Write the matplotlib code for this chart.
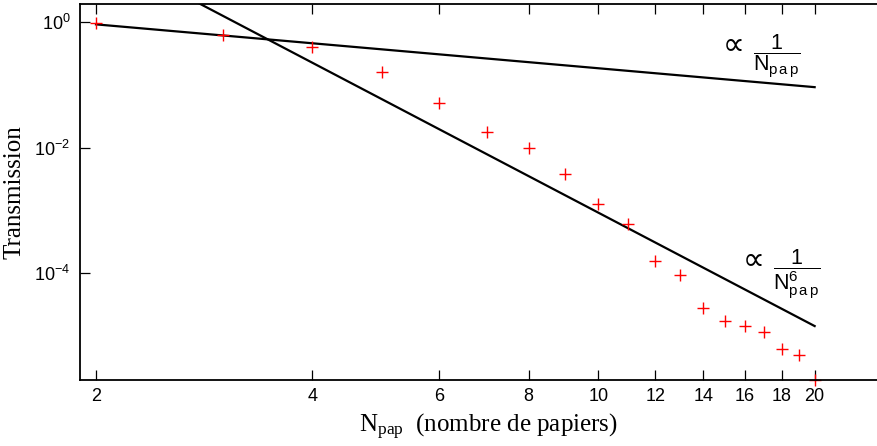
import numpy as np
import matplotlib
matplotlib.use("Agg")
import matplotlib.pyplot as plt
from matplotlib.ticker import FixedLocator, FixedFormatter, LogFormatterSciNotation, NullLocator

plt.rcParams['font.family'] = ['Liberation Sans', 'DejaVu Sans']
plt.rcParams['mathtext.fontset'] = 'custom'
plt.rcParams['mathtext.rm'] = 'Liberation Serif'
plt.rcParams['mathtext.sf'] = 'Liberation Sans'
plt.rcParams['mathtext.it'] = 'Liberation Serif:italic'

# mesures : transmission en fonction du nombre de papiers
n_pap = [2, 3, 4, 5, 6, 7, 8, 9, 10, 11, 12, 13, 14, 15, 16, 17, 18, 19, 20]
transmission = [0.976, 0.628, 0.404, 0.158, 0.0507, 0.0179, 0.0100, 0.00384, 0.00126,
                6.0e-4, 1.56e-4, 9.25e-5, 2.76e-5, 1.75e-5, 1.46e-5, 1.17e-5, 6.2e-6, 4.98e-6, 2.0e-6]

# droites de reference
fit_n = [2, 20]
c_inv1 = 1.84   # ~ 1/N
c_inv6 = 923.0  # ~ 1/N^6

xticks = [2, 4, 6, 8, 10, 12, 14, 16, 18, 20]
yticks = [1e0, 1e-2, 1e-4]

fig = plt.figure(figsize=(8.78, 4.46), dpi=100)
ax = fig.add_axes([0.0911, 0.148, 0.93, 0.844])

fn = np.array(fit_n, dtype=float)
ax.plot(fn, c_inv1 / fn, color='black', lw=1.6)
ax.plot(fn, c_inv6 / fn**6, color='black', lw=1.6)
ax.plot(n_pap, transmission, '+', color='red', ms=8, mew=1.0, clip_on=False)

ax.set_xscale('log')
ax.set_yscale('log')
ax.set_xlim(1.90, 26.0)
ax.set_ylim(10**-5.70, 10**0.295)

ax.xaxis.set_major_locator(FixedLocator(xticks))
ax.xaxis.set_major_formatter(FixedFormatter([str(t) for t in xticks]))
ax.xaxis.set_minor_locator(NullLocator())
ax.yaxis.set_major_locator(FixedLocator(yticks))
ax.yaxis.set_major_formatter(LogFormatterSciNotation())
ax.yaxis.set_minor_locator(NullLocator())

ax.tick_params(axis='x', which='major', direction='in', top=True, length=7, width=0.9,
               labelsize=13, pad=6)
ax.tick_params(axis='y', which='major', direction='in', length=7, width=0.9,
               labelsize=13, pad=7)
ax.spines['right'].set_visible(False)
for s in ['left', 'bottom', 'top']:
    ax.spines[s].set_linewidth(1.3)

ax.set_ylabel('Transmission', fontfamily='Liberation Serif', fontsize=18, labelpad=6)
ax.set_xlabel(r'N$_{\mathrm{pap}}$  (nombre de papiers)', fontfamily='Liberation Serif',
              fontsize=18, labelpad=5)

# annotations ~ 1/N et ~ 1/N^6
ax.text(14.9, 0.43, '\u221d', fontfamily='DejaVu Sans', fontsize=22, ha='left', va='center')
ax.text(16.4, 0.288, r'$\dfrac{\mathsf{1}}{\mathsf{N_{p\,a\,p}}}$', fontsize=15.5,
        ha='left', va='center')
ax.text(15.9, 1.62e-4, '\u221d', fontfamily='DejaVu Sans', fontsize=22, ha='left', va='center')
ax.text(17.5, 9.7e-5, r'$\dfrac{\mathsf{1}}{\mathsf{N_{p\,a\,p}^{6}}}$', fontsize=15.5,
        ha='left', va='center')

fig.savefig('out.png', dpi=100)
